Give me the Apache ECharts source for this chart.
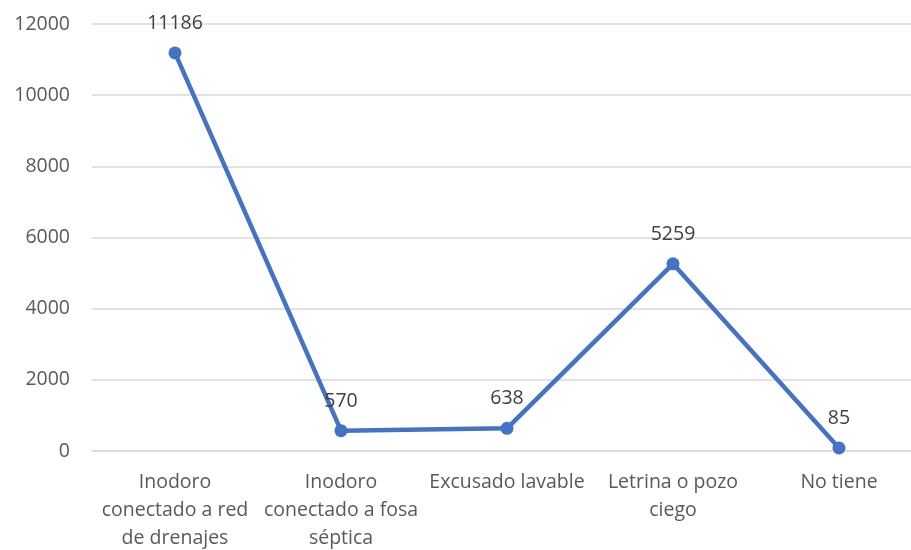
<!DOCTYPE html>
<html>
<head>
<meta charset="utf-8">
<script src="https://cdn.jsdelivr.net/npm/echarts@6/dist/echarts.min.js"></script>
<style>
  html, body { margin: 0; padding: 0; background: #fff; }
  #chart { width: 911px; height: 550px; }
</style>
</head>
<body>
<div id="chart"></div>
<script>
const categories = [
  'Inodoro\nconectado a red\nde drenajes',
  'Inodoro\nconectado a fosa\nséptica',
  'Excusado lavable',
  'Letrina o pozo\nciego',
  'No tiene'
];
const values = [11186, 570, 638, 5259, 85];

const chart = echarts.init(document.getElementById('chart'));
const font = '"Open Sans", "Liberation Sans", sans-serif';

chart.setOption({
  backgroundColor: '#fff',
  animation: false,
  grid: {
    left: 92, top: 24, width: 830, height: 427,
    containLabel: false,
    outerBoundsMode: 'none'
  },
  xAxis: {
    type: 'category',
    data: categories,
    boundaryGap: true,
    axisLine: { lineStyle: { color: '#d9d9d9', width: 1.5 } },
    axisTick: { show: false },
    axisLabel: {
      interval: 0,
      color: '#595959',
      fontFamily: font,
      fontSize: 19.5,
      lineHeight: 28,
      margin: 17
    }
  },
  yAxis: {
    type: 'value',
    min: 0,
    max: 12000,
    interval: 2000,
    axisLine: { show: false },
    axisTick: { show: false },
    splitLine: { lineStyle: { color: '#d9d9d9', width: 1.5 } },
    axisLabel: {
      color: '#595959',
      fontFamily: font,
      fontSize: 19.5,
      margin: 22,
      formatter: v => String(v)
    }
  },
  series: [{
    type: 'line',
    data: values,
    symbol: 'circle',
    symbolSize: 13,
    itemStyle: { color: '#4472c4' },
    lineStyle: { color: '#4472c4', width: 4.5 },
    label: {
      show: true,
      position: 'top',
      distance: 13,
      color: '#404040',
      fontFamily: font,
      fontSize: 19.5
    }
  }]
});
</script>
</body>
</html>
